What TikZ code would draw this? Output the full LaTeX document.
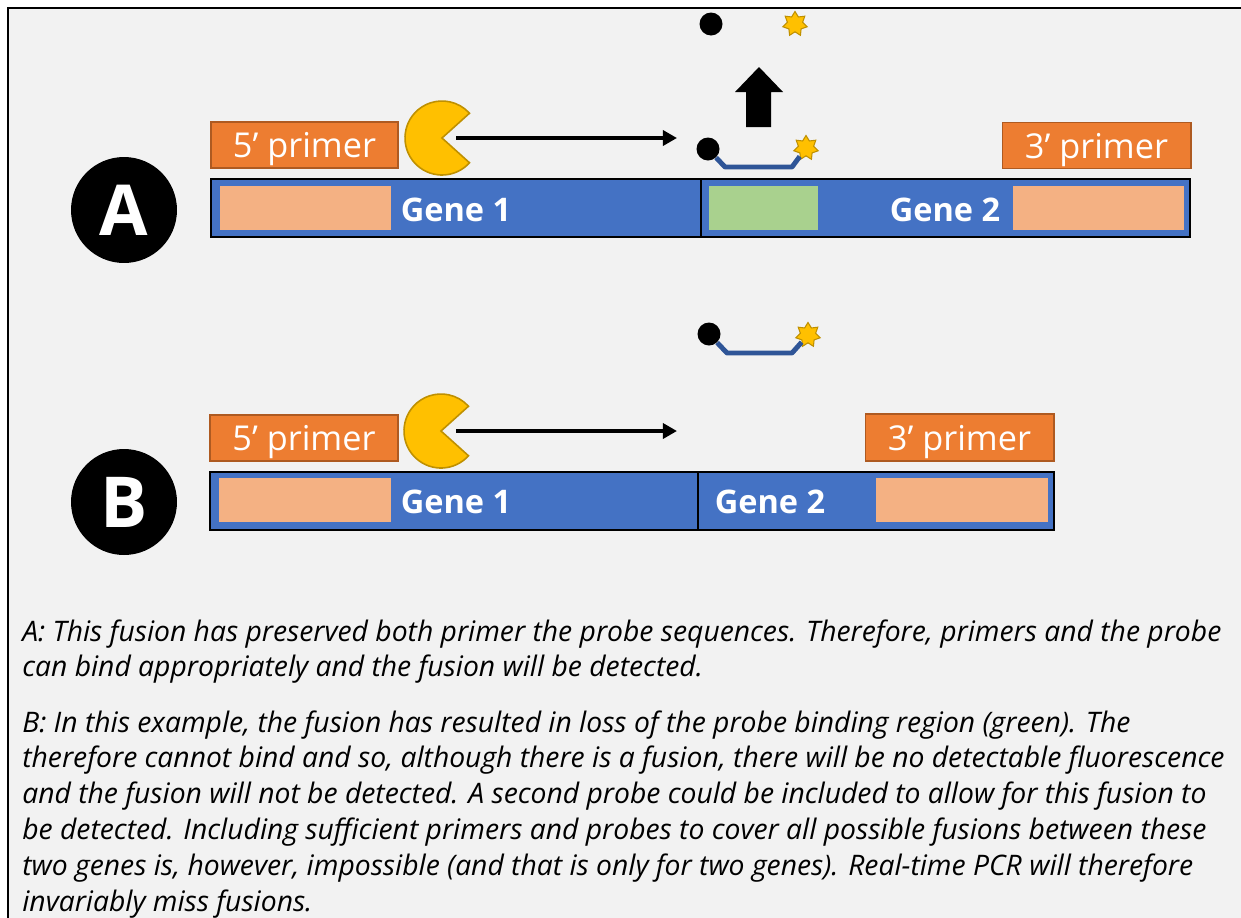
\documentclass[tikz,border=0pt]{standalone}
\usepackage{fontspec}
\setmainfont{Open Sans}
\usetikzlibrary{arrows.meta,shapes.geometric}
\definecolor{genebl}{HTML}{4472C4}
\definecolor{primor}{HTML}{ED7D31}
\definecolor{primbd}{HTML}{AE5A21}
\definecolor{peach}{HTML}{F4B183}
\definecolor{probegr}{HTML}{A9D18E}
\definecolor{pacyel}{HTML}{FFC000}
\definecolor{pacbd}{HTML}{BF9000}
\definecolor{probebl}{HTML}{2F5597}
\definecolor{panelbg}{HTML}{F2F2F2}
\tikzset{
  genebar/.style={draw=black, line width=1.6pt},
  primer/.style={draw=primbd, fill=primor, line width=0.6pt, text=white, inner sep=0pt, text depth=0pt, font=\fontsize{19.5}{21}\selectfont},
  genelabel/.style={text=white, inner sep=0pt, font=\bfseries\fontsize{18.5}{20}\selectfont},
  caselabel/.style={circle, fill=black, minimum size=2.12cm, inner sep=0pt, text=white, font=\bfseries\fontsize{40}{44}\selectfont},
  pacman/.style={draw=pacbd, fill=pacyel, line width=0.9pt},
  extarrow/.style={-{Triangle[length=8pt,width=8.5pt]}, line width=2.3pt},
  quencher/.style={circle, fill=black, minimum size=0.46cm, inner sep=0pt},
  reporter/.style={star, star points=7, star point ratio=1.6, draw=pacbd, fill=pacyel, line width=0.6pt, minimum size=0.5cm, inner sep=0pt},
  probeline/.style={draw=probebl, line width=2.8pt, line join=round},
  caption/.style={align=left, inner sep=0pt, font=\itshape\fontsize{16.1}{20.4}\selectfont}
}
\begin{document}
\begin{tikzpicture}[x=0.02cm, y=-0.02cm]
\useasboundingbox[fill=white] (0,0) rectangle (1241,917);
\fill[panelbg] (8,8) rectangle (1260,940);
\draw[line width=1.4pt] (8,940) -- (8,8) -- (1260,8);

% case A: probe site kept
\node[caselabel] (caseA) at (124,210) {A};
\fill[genebl] (211,179) rectangle (1190,237);
\fill[peach] (220,186) rectangle (391,230);
\fill[probegr] (709,186) rectangle (818,230);
\fill[peach] (1013,186) rectangle (1184,230);
\draw[genebar] (211,179) rectangle (1190,237);
\draw[genebar] (701,179) -- (701,237);
\node[genelabel] (gene1A) at (456,210) {Gene 1};
\node[genelabel] (gene2A) at (945,210) {Gene 2};
\node[primer, minimum width=3.74cm, minimum height=0.92cm] (fwdA) at (304.5,145) {5’ primer};
\node[primer, minimum width=3.78cm, minimum height=0.92cm] (revA) at (1096.5,145.5) {3’ primer};
\filldraw[pacman] (442,138) -- ++(42:37) arc[start angle=42, end angle=318, radius=37] -- cycle;
\coordinate (extAs) at (456,138);
\coordinate (extAe) at (677,138);
\draw[extarrow] (extAs) -- (extAe);
\node[quencher] (qA) at (708,149) {};
\node[reporter] (rA) at (806,148) {};
\draw[probeline] (qA) -- (725,167) -- (792,167) -- (rA);
% cleaved probe
\fill (746,127) -- (746,92) -- (735,92) -- (759,67) -- (783,92) -- (771,92) -- (771,127) -- cycle;
\node[quencher] (qFree) at (711,24) {};
\node[reporter] (rFree) at (795,24) {};

% case B: probe site lost
\node[caselabel] (caseB) at (124,502) {B};
\fill[genebl] (210,472) rectangle (1054,530);
\fill[peach] (219,478) rectangle (391,522);
\fill[peach] (876,478) rectangle (1048,522);
\draw[genebar] (210,472) rectangle (1054,530);
\draw[genebar] (698,472) -- (698,530);
\node[genelabel] (gene1B) at (456,502) {Gene 1};
\node[genelabel] (gene2B) at (770,502) {Gene 2};
\node[primer, minimum width=3.76cm, minimum height=0.92cm] (fwdB) at (304,438) {5’ primer};
\node[primer, minimum width=3.78cm, minimum height=0.94cm] (revB) at (959.5,437.5) {3’ primer};
\filldraw[pacman] (441,431) -- ++(42:37) arc[start angle=42, end angle=318, radius=37] -- cycle;
\coordinate (extBs) at (456,431);
\coordinate (extBe) at (677,431);
\draw[extarrow] (extBs) -- (extBe);
\node[quencher] (qB) at (709,334) {};
\node[reporter] (rB) at (808,335) {};
\draw[probeline] (qB) -- (727,353) -- (792,353) -- (rB);

% explanations
\node[caption, anchor=north west] (capA) at (22,619) {A: This fusion has preserved both primer the probe sequences. Therefore, primers and the probe\\can bind appropriately and the fusion will be detected.};
\node[caption, anchor=north west] (capB) at (22,710) {B: In this example, the fusion has resulted in loss of the probe binding region (green). The\\therefore cannot bind and so, although there is a fusion, there will be no detectable fluorescence\\and the fusion will not be detected. A second probe could be included to allow for this fusion to\\be detected. Including sufficient primers and probes to cover all possible fusions between these\\two genes is, however, impossible (and that is only for two genes). Real-time PCR will therefore\\invariably miss fusions.};
\end{tikzpicture}
\end{document}
